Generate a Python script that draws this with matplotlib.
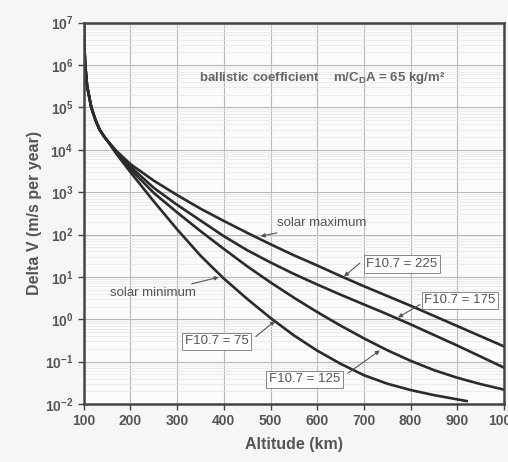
import numpy as np
import matplotlib
matplotlib.use("Agg")
import matplotlib.pyplot as plt

plt.rcParams['font.family'] = ['Liberation Sans', 'DejaVu Sans']
plt.rcParams['mathtext.default'] = 'regular'

# trecho comum (todas as curvas juntas abaixo de ~150 km)
alt_comum = [100, 101, 103, 107, 116, 125, 134, 145]
dv_comum = [1e7, 3.2e6, 1.0e6, 3.2e5, 1.0e5, 5.0e4, 2.95e4, 1.95e4]

# altitudes (km) depois da separação
alt = [150, 170, 200, 250, 300, 350, 400, 450, 500, 550, 600, 650, 700,
       750, 800, 850, 900, 950, 1000]

# log10 do delta V para cada F10.7
log_f75 = [4.22, 3.90, 3.47, 2.78, 2.12, 1.50, 0.96, 0.48, 0.03, -0.38,
           -0.74, -1.05, -1.32, -1.52, -1.67, -1.79, -1.89, -1.93]
alt_f75 = alt[:17] + [920]
log_f125 = [4.22, 3.93, 3.54, 2.98, 2.52, 2.08, 1.66, 1.25, 0.87, 0.51,
            0.17, -0.15, -0.45, -0.73, -0.98, -1.20, -1.38, -1.53, -1.66]
log_f175 = [4.22, 3.95, 3.60, 3.10, 2.70, 2.33, 1.96, 1.63, 1.34, 1.07,
            0.82, 0.58, 0.35, 0.12, -0.12, -0.37, -0.62, -0.88, -1.14]
log_f225 = [4.22, 3.97, 3.66, 3.27, 2.93, 2.61, 2.32, 2.04, 1.77, 1.51,
            1.27, 1.02, 0.78, 0.55, 0.32, 0.08, -0.16, -0.40, -0.64]

xticks = [100, 200, 300, 400, 500, 600, 700, 800, 900, 1000]

cinza = '#555555'
linha = '#2b2b2b'

fig = plt.figure(figsize=(5.08, 4.62), dpi=100, facecolor='#f6f6f6')
ax = fig.add_axes([0.165, 0.1255, 0.827, 0.8255])
ax.set_facecolor('#fbfbfb')

for a, lg in [(alt_f75, log_f75), (alt, log_f125), (alt, log_f175), (alt, log_f225)]:
    x = alt_comum + list(a)
    y = dv_comum + list(10.0 ** np.array(lg))
    ax.plot(x, y, color=linha, lw=1.9, solid_joinstyle='round')

ax.set_yscale('log')
ax.set_xlim(100, 1000)
ax.set_ylim(1e-2, 1e7)
ax.set_xticks(xticks)
ax.set_yticks([10.0 ** k for k in range(-2, 8)])

ax.grid(True, which='major', color='#b8b8b8', lw=0.8)
ax.grid(True, which='minor', axis='y', color='#e6e6e6', lw=0.5)
ax.tick_params(which='minor', length=0)
ax.tick_params(which='major', direction='out', length=4, width=1, color='#444444',
               labelsize=10, labelcolor=cinza)
for lab in ax.get_xticklabels() + ax.get_yticklabels():
    lab.set_fontweight('bold')

for s in ax.spines.values():
    s.set_color('#444444')
    s.set_linewidth(1.8)

ax.set_xlabel('Altitude (km)', fontsize=11.5, fontweight='bold', color=cinza, labelpad=6)
ax.set_ylabel('Delta V (m/s per year)', fontsize=11.5, fontweight='bold', color=cinza,
              labelpad=2)

ax.text(610, 4.9e5, 'ballistic coefficient    m/C$_D$A = 65 kg/m²', fontsize=9.5,
        fontweight='bold', color='#666666', ha='center', va='center')

seta = dict(arrowstyle='-|>', color='#555555', lw=0.8, mutation_scale=6)
ax.annotate('solar maximum', xy=(473, 88), xytext=(513, 182), fontsize=9.5,
            color='#555555', ha='left', va='center', arrowprops=seta)
ax.annotate('solar minimum', xy=(395, 10.2), xytext=(341, 4.1), fontsize=9.5,
            color='#555555', ha='right', va='center', arrowprops=seta)

caixa = dict(boxstyle='square,pad=0.2', fc='white', ec='#888888', lw=0.7)
rotulos = [('F10.7 = 75', (385, 0.30), (464, 0.357), (514, 1.0)),
           ('F10.7 = 125', (573, 0.038), (661, 0.049), (739, 0.2)),
           ('F10.7 = 175', (906, 2.78), (825, 2.4), (768, 1.02)),
           ('F10.7 = 225', (781, 20.0), (696, 23.4), (653, 9.3))]
for txt, pos, cauda, ponta in rotulos:
    ax.annotate('', xy=ponta, xytext=cauda, arrowprops=seta)
    ax.text(pos[0], pos[1], txt, fontsize=9.5, color='#555555', ha='center',
            va='center', bbox=caixa)

fig.savefig('out.png', dpi=100, facecolor=fig.get_facecolor())
